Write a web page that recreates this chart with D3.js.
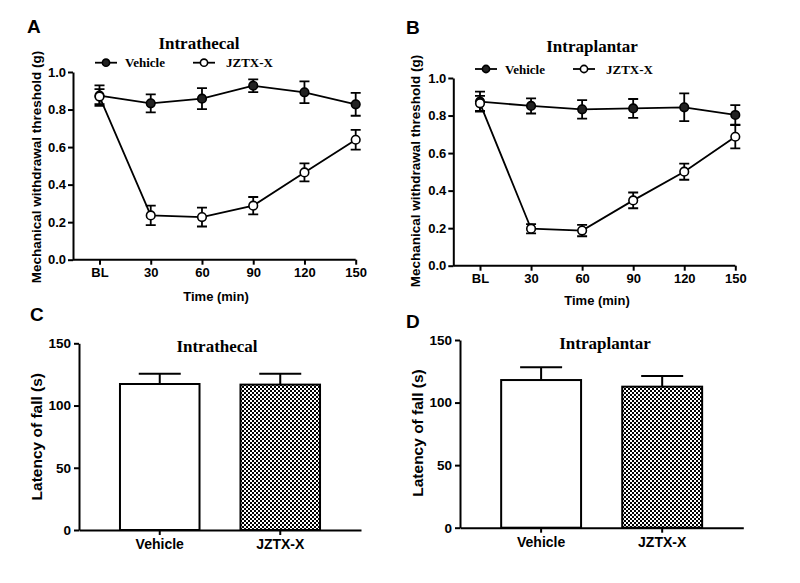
<!DOCTYPE html>
<html>
<head>
<meta charset="utf-8">
<script src="https://cdn.jsdelivr.net/npm/d3@7"></script>
<style>
  body { margin: 0; background: #fff; }
  svg { display: block; }
  text { fill: #000; }
</style>
</head>
<body>
<svg id="fig" width="800" height="583"></svg>
<script>
// ---- data ----
const timeLabels = ["BL", "30", "60", "90", "120", "150"];

const itVehicle = [0.874, 0.833, 0.858, 0.927, 0.892, 0.828];
const itVehicleSem = [0.055, 0.048, 0.056, 0.034, 0.058, 0.061];
const itJztx = [0.869, 0.236, 0.227, 0.288, 0.465, 0.639];
const itJztxSem = [0.04, 0.052, 0.05, 0.046, 0.048, 0.053];

const ipVehicle = [0.874, 0.851, 0.833, 0.838, 0.844, 0.803];
const ipVehicleSem = [0.053, 0.04, 0.049, 0.05, 0.074, 0.052];
const ipJztx = [0.865, 0.197, 0.187, 0.348, 0.501, 0.687];
const ipJztxSem = [0.04, 0.025, 0.03, 0.042, 0.043, 0.062];

const barGroups = ["Vehicle", "JZTX-X"];
const itLatency = [117.3, 116.8];
const itLatencySem = [8.3, 8.8];
const ipLatency = [118.0, 112.7];
const ipLatencySem = [10.2, 8.5];

const lineTicks = [0, 0.2, 0.4, 0.6, 0.8, 1.0];
const barTicks = [0, 50, 100, 150];

const svg = d3.select("#fig");
const sans = "'Liberation Sans', Arial, sans-serif";
const serif = "'Liberation Serif', 'Times New Roman', serif";

// checkerboard fill used for the JZTX-X bars
const pat = svg.append("defs").append("pattern")
    .attr("id", "checker")
    .attr("width", 4).attr("height", 4)
    .attr("patternUnits", "userSpaceOnUse");
pat.append("rect").attr("width", 4).attr("height", 4).attr("fill", "#fff");
pat.append("rect").attr("width", 2).attr("height", 2).attr("fill", "#000");
pat.append("rect").attr("x", 2).attr("y", 2).attr("width", 2).attr("height", 2).attr("fill", "#000");

function panelLetter(letter, x, y) {
    svg.append("text").attr("x", x).attr("y", y)
        .style("font-family", sans).style("font-weight", "bold").style("font-size", "19px")
        .text(letter);
}

function yLabel(label, x, y, size) {
    svg.append("text")
        .attr("transform", `translate(${x},${y}) rotate(-90)`)
        .attr("text-anchor", "middle").attr("dy", "0.35em")
        .style("font-family", sans).style("font-weight", "bold").style("font-size", size)
        .text(label);
}

function styleAxis(g, size) {
    g.select(".domain").attr("stroke", "#000").attr("stroke-width", 2);
    g.selectAll(".tick line").attr("stroke", "#000").attr("stroke-width", 2);
    g.selectAll(".tick text")
        .attr("fill", "#000")
        .style("font-family", sans).style("font-weight", "bold").style("font-size", size);
}

function drawLinePanel(p) {
    const x = d3.scalePoint().domain(timeLabels).range([p.px0, p.px1]);
    const y = d3.scaleLinear().domain([0, 1]).range([p.yBot, p.yTop]);

    const gx = svg.append("g").attr("transform", `translate(0,${p.yBot})`)
        .call(d3.axisBottom(x).tickSize(5).tickPadding(3).tickSizeOuter(0));
    gx.select(".domain").attr("d", `M${p.ax0},0H${p.px1}`);
    styleAxis(gx, "13px");

    const gy = svg.append("g").attr("transform", `translate(${p.ax0},0)`)
        .call(d3.axisLeft(y).tickValues(lineTicks).tickFormat(d3.format(".1f")).tickSize(5).tickPadding(2).tickSizeOuter(0));
    styleAxis(gy, "13px");

    const series = [
        { vals: p.vehicle, sem: p.vehicleSem, open: false },
        { vals: p.jztx, sem: p.jztxSem, open: true }
    ];
    const line = d3.line().x((d, i) => x(timeLabels[i])).y(d => y(d));

    series.forEach(s => {
        svg.append("path").datum(s.vals)
            .attr("d", line).attr("fill", "none")
            .attr("stroke", "#000").attr("stroke-width", 1.8);
        const eb = svg.append("g");
        s.vals.forEach((v, i) => {
            const cx = x(timeLabels[i]);
            const hi = y(v + s.sem[i]), lo = y(v - s.sem[i]);
            eb.append("path")
                .attr("d", `M${cx},${hi}V${lo}M${cx - 5},${hi}H${cx + 5}M${cx - 5},${lo}H${cx + 5}`)
                .attr("stroke", "#000").attr("stroke-width", 1.8).attr("fill", "none");
        });
        svg.append("g").selectAll("circle").data(s.vals).join("circle")
            .attr("cx", (d, i) => x(timeLabels[i])).attr("cy", d => y(d))
            .attr("r", 4.3)
            .attr("fill", s.open ? "#fff" : "#222")
            .attr("stroke", "#000").attr("stroke-width", 1.6);
    });

    // title and legend
    svg.append("text").attr("x", p.titleX).attr("y", p.titleY).attr("text-anchor", "middle")
        .style("font-family", serif).style("font-weight", "bold").style("font-size", "17px")
        .text(p.title);

    const legend = [
        { label: "Vehicle", x: p.legX[0], tx: p.legTextX[0], open: false },
        { label: "JZTX-X", x: p.legX[1], tx: p.legTextX[1], open: true }
    ];
    legend.forEach(l => {
        svg.append("line").attr("x1", l.x - 11).attr("x2", l.x + 11)
            .attr("y1", p.legY).attr("y2", p.legY)
            .attr("stroke", "#000").attr("stroke-width", 1.8);
        svg.append("circle").attr("cx", l.x).attr("cy", p.legY).attr("r", 3.6)
            .attr("fill", l.open ? "#fff" : "#222").attr("stroke", "#000").attr("stroke-width", 1.6);
        svg.append("text").attr("x", l.tx).attr("y", p.legY).attr("dy", "0.35em")
            .style("font-family", serif).style("font-weight", "bold").style("font-size", "13px")
            .text(l.label);
    });

    svg.append("text").attr("x", p.xTitleX).attr("y", p.xTitleY).attr("text-anchor", "middle")
        .style("font-family", sans).style("font-weight", "bold").style("font-size", "13px")
        .text("Time (min)");
    yLabel("Mechanical withdrawal threshold (g)", p.yLabX, p.yLabY, "13.5px");
}

function drawBarPanel(p) {
    const x = d3.scaleBand().domain(barGroups).range([p.ax0, p.ax1]).padding(0.34);
    const y = d3.scaleLinear().domain([0, 150]).range([p.yBot, p.yTop]);

    svg.append("g").selectAll("rect").data(p.vals).join("rect")
        .attr("x", (d, i) => x(barGroups[i]))
        .attr("y", d => y(d))
        .attr("width", x.bandwidth())
        .attr("height", d => p.yBot - y(d))
        .attr("fill", (d, i) => i === 0 ? "#fff" : "url(#checker)")
        .attr("stroke", "#000").attr("stroke-width", 2);

    p.vals.forEach((v, i) => {
        const cx = x(barGroups[i]) + x.bandwidth() / 2;
        const top = y(v + p.sem[i]);
        svg.append("path")
            .attr("d", `M${cx},${y(v)}V${top}M${cx - 21},${top}H${cx + 21}`)
            .attr("stroke", "#000").attr("stroke-width", 2).attr("fill", "none");
    });

    const gx = svg.append("g").attr("transform", `translate(0,${p.yBot})`)
        .call(d3.axisBottom(x).tickSize(5).tickPadding(4).tickSizeOuter(0));
    styleAxis(gx, "14px");

    const gy = svg.append("g").attr("transform", `translate(${p.ax0},0)`)
        .call(d3.axisLeft(y).tickValues(barTicks).tickSize(5).tickPadding(3).tickSizeOuter(0));
    styleAxis(gy, "13.5px");

    svg.append("text").attr("x", p.titleX).attr("y", p.titleY).attr("text-anchor", "middle")
        .style("font-family", serif).style("font-weight", "bold").style("font-size", "17px")
        .text(p.title);
    yLabel("Latency of fall (s)", p.yLabX, p.yLabY, "15.5px");
}

drawLinePanel({
    title: "Intrathecal", titleX: 199, titleY: 49,
    legY: 62.7, legX: [106, 204], legTextX: [125, 226],
    ax0: 73, px0: 99.5, px1: 355.7, yTop: 72, yBot: 259.7,
    vehicle: itVehicle, vehicleSem: itVehicleSem, jztx: itJztx, jztxSem: itJztxSem,
    xTitleX: 216, xTitleY: 301, yLabX: 36, yLabY: 167
});

drawLinePanel({
    title: "Intraplantar", titleX: 592, titleY: 52,
    legY: 69, legX: [486, 584], legTextX: [505, 606],
    ax0: 453.3, px0: 480, px1: 735.3, yTop: 78, yBot: 265.7,
    vehicle: ipVehicle, vehicleSem: ipVehicleSem, jztx: ipJztx, jztxSem: ipJztxSem,
    xTitleX: 597, xTitleY: 305, yLabX: 415, yLabY: 171
});

drawBarPanel({
    title: "Intrathecal", titleX: 217, titleY: 352,
    ax0: 79, ax1: 361, yTop: 343.3, yBot: 530,
    vals: itLatency, sem: itLatencySem, yLabX: 37, yLabY: 436.7
});

drawBarPanel({
    title: "Intraplantar", titleX: 605, titleY: 349,
    ax0: 460, ax1: 743.3, yTop: 340, yBot: 527.7,
    vals: ipLatency, sem: ipLatencySem, yLabX: 418, yLabY: 433
});

panelLetter("A", 27, 33);
panelLetter("B", 406, 34);
panelLetter("C", 30, 321);
panelLetter("D", 406, 328);
</script>
</body>
</html>
